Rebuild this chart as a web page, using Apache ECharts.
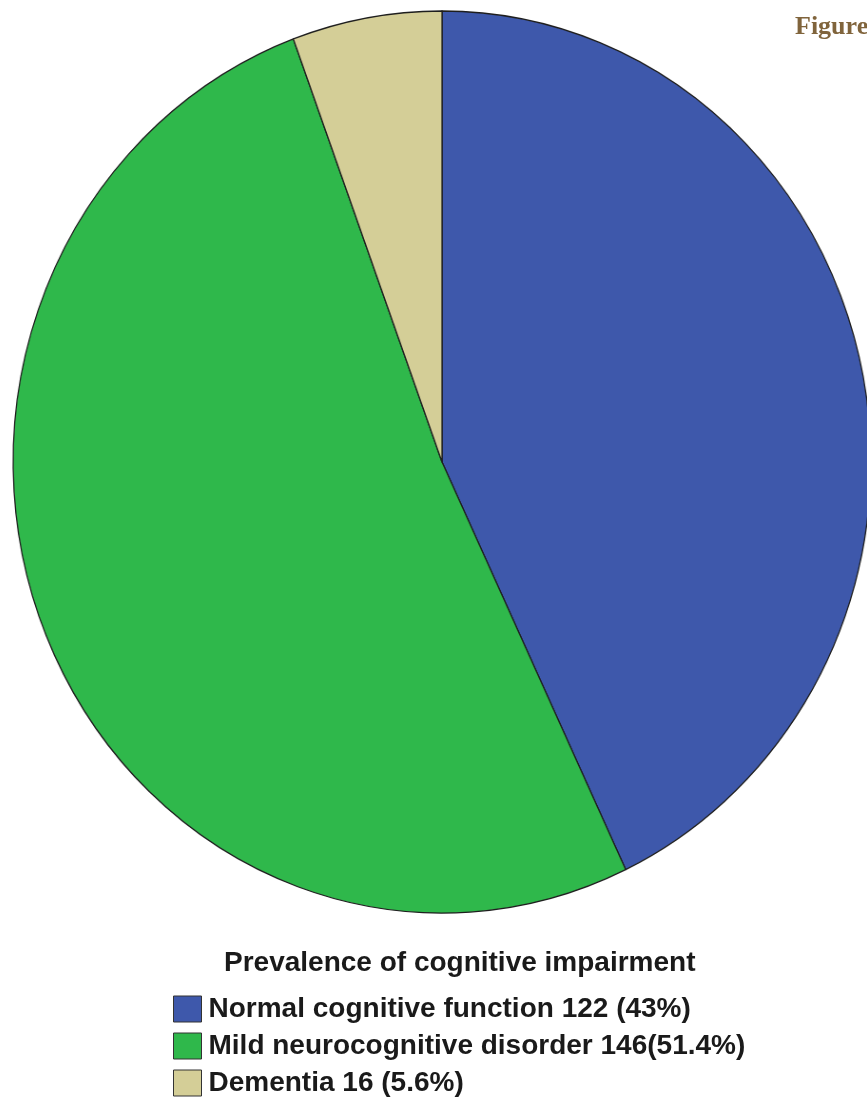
<!DOCTYPE html>
<html>
<head>
<meta charset="utf-8">
<script src="https://cdn.jsdelivr.net/npm/echarts@6/dist/echarts.min.js"></script>
<style>
  html, body { margin: 0; padding: 0; background: #ffffff; }
  #wrap { position: relative; width: 867px; height: 1099px; overflow: hidden; }
  #pie { position: absolute; left: -100px; top: 0; width: 1084px; height: 1099px;
         transform-origin: 542px 462px; transform: scaleX(0.951); }
  #txt { position: absolute; left: 0; top: 0; width: 867px; height: 1099px; }
</style>
</head>
<body>
<div id="wrap">
  <div id="pie"></div>
  <div id="txt"></div>
</div>
<script>
const categories = ['Normal cognitive function', 'Mild neurocognitive disorder', 'Dementia'];
const counts = [122, 146, 16];
const legendLabels = [
  'Normal cognitive function 122 (43%)',
  'Mild neurocognitive disorder 146(51.4%)',
  'Dementia 16 (5.6%)'
];
const colors = ['#3e58ab', '#2fb84b', '#d4ce97'];
const chartTitle = 'Prevalence of cognitive impairment';
const figureLabel = 'Figure';

const pieData = counts.map((v, i) => ({
  name: legendLabels[i],
  value: v,
  itemStyle: { color: colors[i] }
}));

const pieChart = echarts.init(document.getElementById('pie'), null, { renderer: 'canvas' });
pieChart.setOption({
  animation: false,
  series: [{
    type: 'pie',
    center: [542, 462],
    radius: [0, 451],
    startAngle: 90,
    clockwise: true,
    silent: true,
    label: { show: false },
    labelLine: { show: false },
    itemStyle: { borderColor: '#1e1e1e', borderWidth: 1.3 },
    data: pieData
  }]
});

const txtChart = echarts.init(document.getElementById('txt'), null, { renderer: 'canvas' });
txtChart.setOption({
  animation: false,
  title: {
    text: chartTitle,
    left: 224,
    top: 948,
    padding: 0,
    textStyle: { fontFamily: 'Liberation Sans, Arial, sans-serif', fontWeight: 'bold', fontSize: 28, color: '#1a1a1a', lineHeight: 30 }
  },
  graphic: [{
    type: 'text',
    left: 795,
    top: 14,
    style: {
      text: figureLabel,
      font: 'bold 26px "Liberation Serif", "Times New Roman", serif',
      fill: '#80643c'
    }
  }],
  legend: {
    orient: 'vertical',
    left: 173,
    top: 995,
    padding: 0,
    icon: 'rect',
    itemWidth: 28,
    itemHeight: 26,
    itemGap: 9,
    selectedMode: false,
    itemStyle: { borderColor: '#333333', borderWidth: 1 },
    textStyle: { fontFamily: 'Liberation Sans, Arial, sans-serif', fontWeight: 'bold', fontSize: 28, color: '#1a1a1a', padding: [0, 0, 0, 2], lineHeight: 26 },
    data: legendLabels
  },
  series: [{
    type: 'pie',
    center: [-100, -100],
    radius: [0, 0],
    silent: true,
    label: { show: false },
    labelLine: { show: false },
    data: pieData
  }]
});
</script>
</body>
</html>
